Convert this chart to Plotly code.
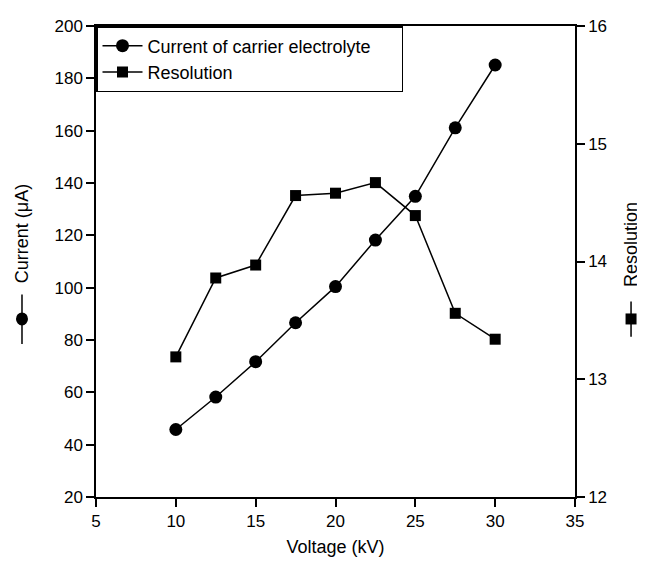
import plotly.graph_objects as go

voltage = [10, 12.5, 15, 17.5, 20, 22.5, 25, 27.5, 30]
current = [45.8, 58.2, 71.7, 86.6, 100.4, 118.2, 134.9, 161.1, 185.1]
resolution = [13.19, 13.86, 13.97, 14.56, 14.58, 14.67, 14.39, 13.56, 13.34]
series_names = ["Current of carrier electrolyte", "Resolution"]

FONT = "Liberation Sans, Arial, sans-serif"
TICK_FS = 17
TXT_FS = 18
PAD = "\u00a0" * 5

fig = go.Figure()
fig.add_trace(go.Scatter(
    x=voltage, y=current, name=series_names[0] + PAD,
    mode="lines+markers", line=dict(color="black", width=1.5),
    marker=dict(symbol="circle", size=13, color="black"), yaxis="y"))
fig.add_trace(go.Scatter(
    x=voltage, y=resolution, name=series_names[1],
    mode="lines+markers", line=dict(color="black", width=1.5),
    marker=dict(symbol="square", size=11, color="black"), yaxis="y2"))

axis_common = dict(ticks="outside", ticklen=8, tickwidth=1.5, tickcolor="black",
                   showline=True, linecolor="black", linewidth=1.5,
                   showgrid=False, zeroline=False,
                   tickfont=dict(size=TICK_FS, color="black", family=FONT))

# decorative series symbols next to the rotated axis titles
LX, RX = -0.1545, 1.117
shapes = [
    dict(type="line", xref="paper", yref="paper", x0=LX, x1=LX,
         y0=0.325, y1=0.43, line=dict(color="black", width=1.5)),
    dict(type="circle", xref="paper", yref="paper", xsizemode="pixel", ysizemode="pixel",
         xanchor=LX, yanchor=0.378, x0=-6, x1=6, y0=-6.5, y1=6.5,
         fillcolor="black", line=dict(color="black", width=0)),
    dict(type="line", xref="paper", yref="paper", x0=RX, x1=RX,
         y0=0.34, y1=0.415, line=dict(color="black", width=1.5)),
    dict(type="rect", xref="paper", yref="paper", xsizemode="pixel", ysizemode="pixel",
         xanchor=RX, yanchor=0.378, x0=-5.5, x1=5.5, y0=-5.5, y1=5.5,
         fillcolor="black", line=dict(color="black", width=0)),
]

fig.update_layout(
    width=637, height=559,
    margin=dict(l=88, r=70, t=9, b=70),
    paper_bgcolor="white", plot_bgcolor="white",
    font=dict(family=FONT, size=TXT_FS, color="black"),
    showlegend=True,
    legend=dict(x=0, y=1, xanchor="left", yanchor="top",
                bordercolor="black", borderwidth=1.5, bgcolor="white",
                font=dict(size=TXT_FS, color="black"), tracegroupgap=0, itemwidth=40),
    xaxis=dict(range=[5, 35], tickvals=[5, 10, 15, 20, 25, 30, 35], mirror=True,
               title=dict(text="Voltage (kV)", font=dict(size=TXT_FS, color="black"), standoff=10),
               **axis_common),
    yaxis=dict(range=[20, 200], tickvals=list(range(20, 201, 20)), **axis_common),
    yaxis2=dict(range=[12, 16], tickvals=[12, 13, 14, 15, 16],
                overlaying="y", side="right", **axis_common),
    shapes=shapes,
    annotations=[
        dict(text="Current (μA)", xref="paper", yref="paper",
             x=LX, y=0.56, xanchor="center", yanchor="middle",
             textangle=-90, showarrow=False,
             font=dict(size=TXT_FS, family=FONT, color="black")),
        dict(text="Resolution", xref="paper", yref="paper",
             x=RX, y=0.535, xanchor="center", yanchor="middle",
             textangle=-90, showarrow=False,
             font=dict(size=TXT_FS, family=FONT, color="black")),
    ],
)

fig.write_html("out.html")
